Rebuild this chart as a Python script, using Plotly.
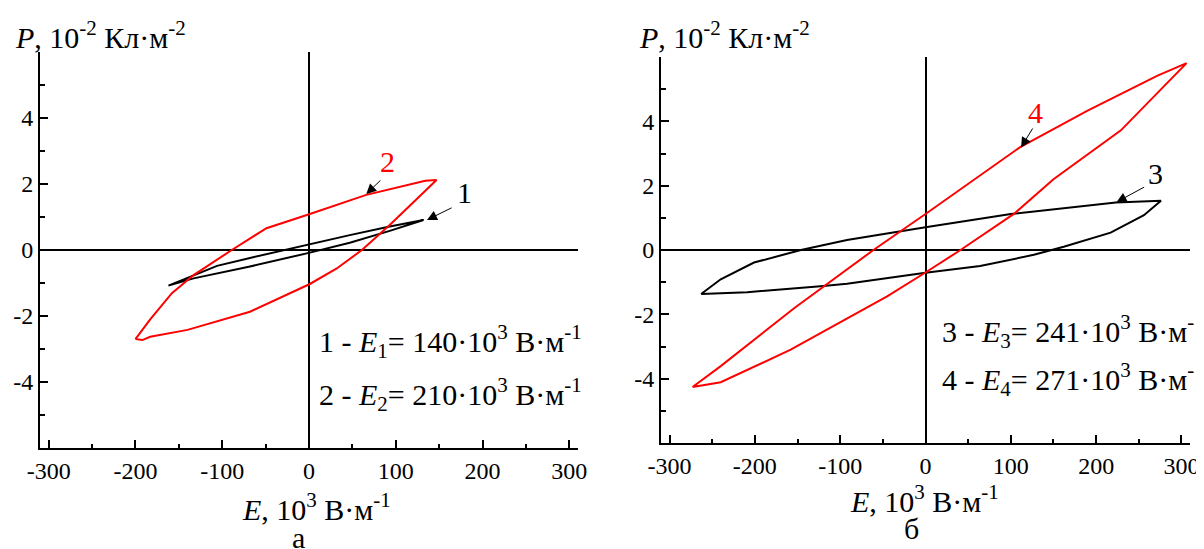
import plotly.graph_objects as go

# ---------------- data ----------------
# Panel "а": loop 1 (black) and loop 2 (red)
e1 = [-162, -133, -106, -68, -26, 1, 47, 93, 132, 93, 47, 1, -68, -133, -162]
p1 = [-1.08, -0.77, -0.48, -0.24, 0.02, 0.18, 0.45, 0.71, 0.91, 0.58, 0.22, -0.08, -0.5, -0.86, -1.08]

e2 = [-200, -183, -158, -133, -89, -49, 1, 66, 134, 147, 93, 61, 32, 1, -68, -140, -183, -192, -200]
p2 = [-2.7, -2.1, -1.31, -0.76, 0, 0.66, 1.09, 1.67, 2.1, 2.12, 0.76, 0, -0.56, -1.03, -1.87, -2.42, -2.63, -2.73, -2.7]

# Panel "б": loop 3 (black) and loop 4 (red)
e3 = [-263, -240, -201, -146, -92, 0, 100, 223, 276, 256, 217, 162, 127, 64, 0, -45, -92, -123, -209, -263]
p3 = [-1.37, -0.91, -0.39, 0, 0.31, 0.71, 1.12, 1.48, 1.53, 1.08, 0.54, 0.1, -0.15, -0.5, -0.71, -0.88, -1.05, -1.13, -1.31, -1.37]

e4 = [-273, -240, -154, -61, 0, 111, 190, 272, 306, 229, 150, 104, 41, 0, -45, -158, -240, -273]
p4 = [-4.26, -3.61, -1.81, 0, 1.12, 3.2, 4.33, 5.42, 5.81, 3.72, 2.2, 1.13, 0, -0.7, -1.44, -3.1, -4.11, -4.26]

x_tickvals = [-300, -200, -100, 0, 100, 200, 300]
x_ticktext = ["-300", "-200", "-100", "0", "100", "200", "300"]
y_tickvals = [-4, -2, 0, 2, 4]
y_ticktext = ["-4", "-2", "0", "2", "4"]
x_minor = [-250, -150, -50, 50, 150, 250]
y_minor = [-5, -3, -1, 1, 3, 5]

legend_a = ["1 - <i>E</i><sub>1</sub>= 140·10<sup>3</sup> В·м<sup>-1</sup>",
            "2 - <i>E</i><sub>2</sub>= 210·10<sup>3</sup> В·м<sup>-1</sup>"]
legend_b = ["3 - <i>E</i><sub>3</sub>= 241·10<sup>3</sup> В·м<sup>-1</sup>",
            "4 - <i>E</i><sub>4</sub>= 271·10<sup>3</sup> В·м<sup>-1</sup>"]
y_title = "<i>P</i>, 10<sup>-2</sup> Кл·м<sup>-2</sup>"
x_title = "<i>E</i>, 10<sup>3</sup> В·м<sup>-1</sup>"

RED = "#ff0000"
BLACK = "#000000"
FONT = "Liberation Serif, Times New Roman, serif"
# the page body has an 8px margin: lay the figure out in window pixels minus that offset
OFF = 8
W, H = 1204 - OFF, 549 - OFF


def px(x):
    return (x - OFF) / W


def py(y):
    return 1 - (y - OFF) / H


fig = go.Figure()
fig.add_trace(go.Scatter(x=e1, y=p1, mode="lines", line=dict(color=BLACK, width=2), xaxis="x", yaxis="y"))
fig.add_trace(go.Scatter(x=e2, y=p2, mode="lines", line=dict(color=RED, width=2), xaxis="x", yaxis="y"))
fig.add_trace(go.Scatter(x=e3, y=p3, mode="lines", line=dict(color=BLACK, width=2), xaxis="x2", yaxis="y2"))
fig.add_trace(go.Scatter(x=e4, y=p4, mode="lines", line=dict(color=RED, width=2), xaxis="x2", yaxis="y2"))


def xax(domain, anchor):
    return dict(domain=domain, anchor=anchor, range=[-310, 310], showgrid=False,
                zeroline=True, zerolinecolor=BLACK, zerolinewidth=1.5,
                showline=True, linecolor=BLACK, linewidth=2, mirror=False,
                ticks="inside", ticklen=8, tickwidth=1.5, tickcolor=BLACK,
                tickmode="array", tickvals=x_tickvals, ticktext=x_ticktext,
                minor=dict(tickmode="array", tickvals=x_minor, ticks="inside", ticklen=4,
                           tickwidth=1.5, tickcolor=BLACK),
                automargin=False,
                tickfont=dict(family=FONT, size=24, color=BLACK), fixedrange=True)


def yax(domain, anchor):
    return dict(domain=domain, anchor=anchor, range=[-6, 6], showgrid=False,
                zeroline=True, zerolinecolor=BLACK, zerolinewidth=1.5,
                showline=True, linecolor=BLACK, linewidth=2, mirror=False,
                ticks="inside", ticklen=8, tickwidth=1.5, tickcolor=BLACK,
                tickmode="array", tickvals=y_tickvals, ticktext=y_ticktext,
                minor=dict(tickmode="array", tickvals=y_minor, ticks="inside", ticklen=5,
                           tickwidth=1.5, tickcolor=BLACK),
                automargin=False,
                tickfont=dict(family=FONT, size=24, color=BLACK), fixedrange=True)


ann = []


def text(xp, yp, s, size, color=BLACK, xanchor="center"):
    ann.append(dict(xref="paper", yref="paper", x=px(xp), y=py(yp), text=s, showarrow=False,
                    xanchor=xanchor, yanchor="middle",
                    font=dict(family=FONT, size=size, color=color)))


def arrow(xr, yr, head, tail, color=BLACK):
    ann.append(dict(xref=xr, yref=yr, axref=xr, ayref=yr, x=head[0], y=head[1],
                    ax=tail[0], ay=tail[1], text=" ", showarrow=True,
                    arrowhead=2, arrowsize=2, arrowwidth=1, arrowcolor=color,
                    standoff=0, startstandoff=0, font=dict(size=1)))


def label(xr, yr, pos, s, color):
    ann.append(dict(xref=xr, yref=yr, x=pos[0], y=pos[1], text=s, showarrow=False,
                    xanchor="center", yanchor="middle",
                    font=dict(family=FONT, size=30, color=color)))


# curve labels and arrows
label("x", "y", (91, 2.67), "2", RED)
arrow("x", "y", (66, 1.70), (84, 2.15))
label("x", "y", (179, 1.73), "1", BLACK)
arrow("x", "y", (136, 0.91), (166, 1.30))
label("x2", "y2", (129, 4.27), "4", RED)
arrow("x2", "y2", (112, 3.19), (127, 3.84))
label("x2", "y2", (269, 2.38), "3", BLACK)
arrow("x2", "y2", (224, 1.49), (258, 1.98))

# axis titles, legends, panel letters
text(13, 35, y_title, 30, xanchor="left")
text(637, 35, y_title, 30, xanchor="left")
text(316, 507, x_title, 30)
text(924, 499, x_title, 30)
text(317, 341, legend_a[0], 30, xanchor="left")
text(317, 394, legend_a[1], 30, xanchor="left")
text(940, 331, legend_b[0], 30, xanchor="left")
text(940, 379, legend_b[1], 30, xanchor="left")
text(298, 537, "а", 30)
text(911, 528, "б", 30)

fig.update_layout(
    width=W, height=H, margin=dict(l=0, r=0, t=0, b=0, pad=0, autoexpand=False),
    paper_bgcolor="white", plot_bgcolor="white", showlegend=False,
    font=dict(family=FONT, color=BLACK),
    xaxis=xax([px(40), px(578)], "y"),
    yaxis=yax([py(448), py(52)], "x"),
    xaxis2=xax([px(661), px(1190)], "y2"),
    yaxis2=yax([py(443), py(57)], "x2"),
    annotations=ann,
)

fig.write_html("out.html")
